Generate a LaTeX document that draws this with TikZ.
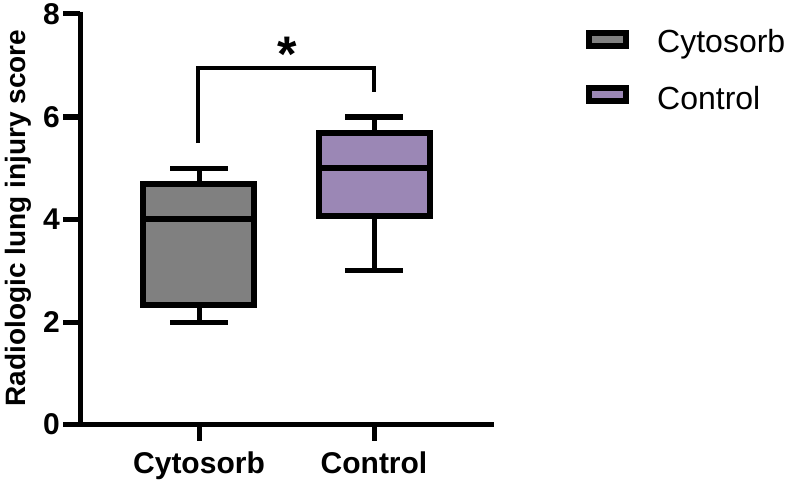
\documentclass[tikz,border=0pt]{standalone}
\usepackage{fontspec}
\setmainfont{Liberation Sans}
\definecolor{cygray}{RGB}{128,128,128}
\definecolor{ctpurple}{RGB}{155,135,181}
\begin{document}
\begin{tikzpicture}[x=1pt,y=-1pt,
  axisline/.style={line width=5pt},
  boxline/.style={line width=6pt},
  whisk/.style={line width=5pt},
  bracket/.style={line width=3.5pt},
  ticklab/.style={font=\fontsize{30}{36}\selectfont\bfseries,inner sep=0pt},
  catlab/.style={font=\fontsize{30}{36}\selectfont\bfseries,inner sep=0pt,anchor=base},
  leglab/.style={font=\fontsize{32}{38}\selectfont,inner sep=0pt,anchor=base west}]
\useasboundingbox (0,0) rectangle (794,484);
% axes
\draw[axisline] (80,12) -- (80,426);
\draw[axisline] (77.5,424) -- (494,424);
\foreach \v/\yy in {0/424,2/322,4/219,6/117,8/14}{
  \draw[axisline] (63,\yy) -- (80,\yy);
  \node[ticklab,anchor=east] (t\v) at (60,\yy) {\v};
}
\draw[axisline] (199,424) -- (199,441);
\draw[axisline] (374,424) -- (374,441);
\node[catlab] (lc) at (199,473) {Cytosorb};
\node[catlab] (lk) at (374,473) {Control};
\node[font=\fontsize{28}{34}\selectfont\bfseries,inner sep=0pt,rotate=90,anchor=base] (yl) at (25,218) {Radiologic lung injury score};
% Cytosorb box
\draw[whisk] (199,168) -- (199,184);
\draw[whisk] (199,305) -- (199,322);
\draw[whisk] (170,168) -- (228,168);
\draw[whisk] (170,322) -- (228,322);
\draw[boxline,fill=cygray] (143,184) rectangle (254,305);
\draw[boxline] (140,219) -- (257,219);
% Control box
\draw[whisk] (374,117) -- (374,133);
\draw[whisk] (374,216) -- (374,270);
\draw[whisk] (345,117) -- (403,117);
\draw[whisk] (345,270) -- (403,270);
\draw[boxline,fill=ctpurple] (319,133) rectangle (430,216);
\draw[boxline] (316,168) -- (433,168);
% significance
\coordinate (bl) at (198,143);
\coordinate (br) at (374,92);
\draw[bracket] (bl) -- (198,68) -- (374,68) -- (br);
\node[font=\fontsize{50}{60}\selectfont\bfseries,inner sep=0pt,anchor=base] (star) at (287,72) {*};
% legend
\draw[boxline,fill=cygray] (589,33) rectangle (626,46);
\draw[boxline,fill=ctpurple] (589,88) rectangle (626,101);
\node[leglab] (l1) at (657,53) {Cytosorb};
\node[leglab] (l2) at (657,110) {Control};
\end{tikzpicture}
\end{document}
